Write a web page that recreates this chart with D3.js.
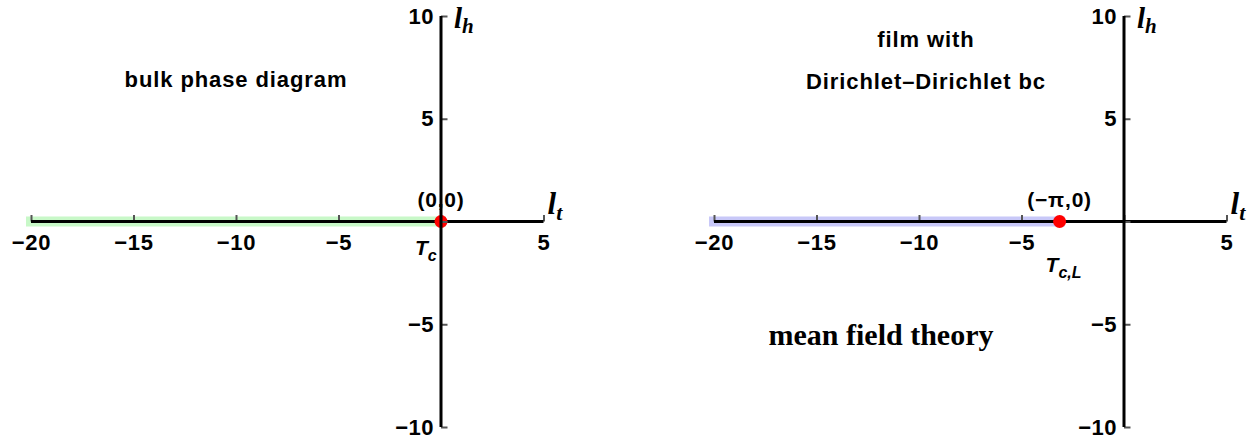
<!DOCTYPE html>
<html>
<head>
<meta charset="utf-8">
<script src="https://cdn.jsdelivr.net/npm/d3@7"></script>
<style>
  body { margin: 0; background: #fff; }
  text { font-family: "Liberation Sans", Arial, sans-serif; font-weight: bold; }
</style>
</head>
<body>
<script>
// panel data
var panels = ["bulk", "film"];
var titles = [["bulk phase diagram"], ["film with", "Dirichlet\u2013Dirichlet bc"]];
var critX = [0, -Math.PI];
var critLabels = ["(0,0)", "(\u2212\u03c0,0)"];
var bandColors = ["#c8f8c8", "#c8c8f8"];
var bandStart = -20;

var xDomain = [-20, 5];
var yDomain = [-10, 10];
var xMajor = [-20, -15, -10, -5, 0, 5];
var yMajor = [-10, -5, 0, 5, 10];

var width = 1260
var height = 444

var svg = d3.select("body")
	.append("svg")
	.attr("width", width)
	.attr("height", height)

var xRanges = [[31, 543.5], [714, 1226.5]]
var y = d3.scaleLinear().domain(yDomain).range([427, 16])

var fmt = function(d) { return d === 0 ? "" : d3.format("d")(d) }

panels.forEach(function(p, i) {
	var x = d3.scaleLinear().domain(xDomain).range(xRanges[i])
	var g = svg.append("g")
	var x0 = x(0), y0 = y(0)

	// shaded ordered-phase band
	g.append("line")
		.attr("x1", x(bandStart)).attr("x2", x(critX[i]))
		.attr("y1", y0).attr("y2", y0)
		.attr("stroke", bandColors[i])
		.attr("stroke-width", 10)
		.attr("stroke-linecap", "square")

	// x axis: minor ticks, then major with labels
	var xMinor = d3.range(-20, 6).filter(function(d) { return d % 5 !== 0 })
	var xa = g.append("g").attr("transform", "translate(0," + y0 + ")")
	xa.call(d3.axisBottom(x).tickValues(xMinor).tickSize(-3.5).tickSizeOuter(0).tickFormat(""))
	xa.call(d3.axisBottom(x).tickValues(xMajor).tickSize(-6.5).tickSizeOuter(0).tickPadding(13).tickFormat(fmt))
	xa.selectAll(".domain").remove()
	xa.selectAll("line").attr("stroke", "#555").attr("stroke-width", 2)
	xa.selectAll("text").attr("font-size", 22).attr("font-family", null)
		.attr("fill", "#000").style("letter-spacing", "0.8px")
	g.append("line")
		.attr("x1", x(xDomain[0])).attr("x2", x(xDomain[1]))
		.attr("y1", y0).attr("y2", y0)
		.attr("stroke", "#000").attr("stroke-width", 3)

	// critical point
	g.append("circle")
		.attr("cx", x(critX[i])).attr("cy", y0).attr("r", 6.5)
		.attr("fill", "#f00")

	// y axis
	var yMinor = d3.range(-10, 11).filter(function(d) { return d % 5 !== 0 })
	var ya = g.append("g").attr("transform", "translate(" + x0 + ",0)")
	ya.call(d3.axisLeft(y).tickValues(yMinor).tickSize(-3.5).tickSizeOuter(0).tickFormat(""))
	ya.call(d3.axisLeft(y).tickValues(yMajor).tickSize(-6.5).tickSizeOuter(0).tickPadding(7).tickFormat(fmt))
	ya.selectAll(".domain").remove()
	ya.selectAll("line").attr("stroke", "#555").attr("stroke-width", 2)
	ya.selectAll("text").attr("font-size", 22).attr("font-family", null)
		.attr("fill", "#000").style("letter-spacing", "0.5px")
	g.append("line")
		.attr("x1", x0).attr("x2", x0)
		.attr("y1", y(yDomain[0])).attr("y2", y(yDomain[1]))
		.attr("stroke", "#000").attr("stroke-width", 3)

	// axis names
	var lh = g.append("text").attr("x", x0 + 13).attr("y", 28)
		.style("font-family", "'Liberation Serif', 'Times New Roman', serif")
		.style("font-style", "italic").attr("font-size", 29)
	lh.append("tspan").text("l")
	lh.append("tspan").attr("font-size", 21).attr("dy", 5).text("h")

	var lt = g.append("text").attr("x", x(xDomain[1]) + 4).attr("y", y0 - 8)
		.style("font-family", "'Liberation Serif', 'Times New Roman', serif")
		.style("font-style", "italic").attr("font-size", 31)
	lt.append("tspan").text("l")
	lt.append("tspan").attr("font-size", 22).attr("dy", 6).text("t")

	// critical point label
	g.append("text").attr("x", x(critX[i])).attr("y", y0 - 15)
		.attr("text-anchor", "middle").attr("font-size", 21)
		.style("letter-spacing", "0.8px")
		.text(critLabels[i])

	// T_c label
	var tc = g.append("text").style("font-style", "italic").attr("font-size", 21)
	if (i === 0) {
		tc.attr("x", x(critX[i]) - 26).attr("y", y0 + 33)
		tc.append("tspan").text("T")
		tc.append("tspan").attr("font-size", 16).attr("dy", 6).text("c")
	} else {
		tc.attr("x", x(critX[i]) - 14).attr("y", y0 + 50)
		tc.append("tspan").text("T")
		tc.append("tspan").attr("font-size", 16).attr("dy", 6).text("c,L")
	}

	// titles
	var cx = i === 0 ? 236 : 926
	var ty = i === 0 ? [87] : [47, 89]
	titles[i].forEach(function(t, j) {
		g.append("text").attr("x", cx).attr("y", ty[j])
			.attr("text-anchor", "middle").attr("font-size", 22)
			.style("letter-spacing", "0.9px")
			.text(t)
	})
})

svg.append("text")
	.attr("x", 881).attr("y", 345)
	.attr("text-anchor", "middle")
	.style("font-family", "'Liberation Serif', 'Times New Roman', serif")
	.attr("font-size", 30)
	.text("mean field theory")
</script>
</body>
</html>
